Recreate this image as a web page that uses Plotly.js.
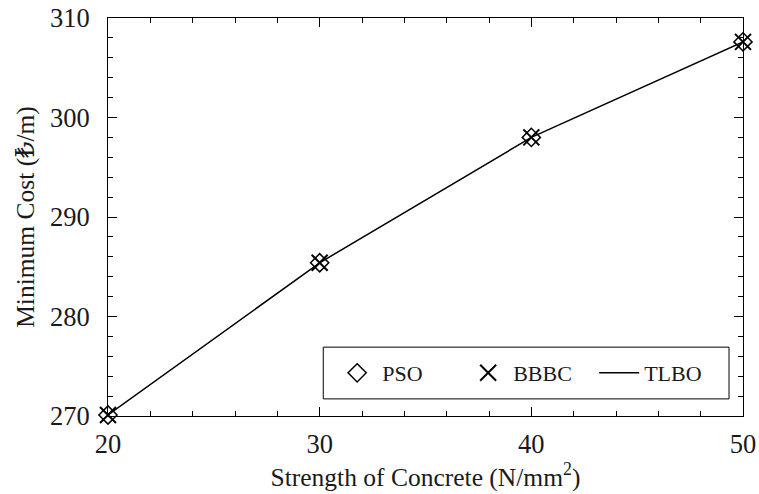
<!DOCTYPE html>
<html><head><meta charset="utf-8">
<script src="https://cdn.plot.ly/plotly-3.0.1.min.js"></script>
<style>body{margin:0;background:#fff}</style>
</head><body><div id="chart" style="width:759px;height:494px"></div>
<script>
const strength = [20, 30, 40, 50];
const psoCost = [270.1, 285.4, 298.0, 307.6];
const bbbcCost = [270.1, 285.4, 298.0, 307.6];
const tlboCost = [270.1, 285.4, 298.0, 307.6];
const xTicks = [20, 30, 40, 50];
const yTicks = [270, 280, 290, 300, 310];

const FONT = 'Liberation Serif, DejaVu Serif, serif';
const traces = [
  {x: strength, y: psoCost, name: 'PSO', mode: 'markers', type: 'scatter', cliponaxis: false,
   marker: {symbol: 'diamond-open', size: 14, color: '#000', line: {width: 1.5, color: '#000'}}},
  {x: strength, y: bbbcCost, name: 'BBBC', mode: 'markers', type: 'scatter', cliponaxis: false,
   marker: {symbol: 'x-thin-open', size: 16, color: '#000', line: {width: 2, color: '#000'}}},
  {x: strength, y: tlboCost, name: 'TLBO', mode: 'lines', type: 'scatter', cliponaxis: false,
   line: {color: '#000', width: 1.5}}
];
const axisCommon = {
  showgrid: false, zeroline: false, showline: true, linecolor: '#000', linewidth: 1,
  mirror: 'ticks', ticks: 'inside', ticklen: 9, tickwidth: 1, tickcolor: '#000',
  ticklabeloverflow: 'allow',
  tickfont: {family: FONT, size: 26.5, color: '#1a1a1a'}
};
const layout = {
  width: 759, height: 494,
  margin: {l: 108, r: 16, t: 18, b: 78},
  paper_bgcolor: '#fff', plot_bgcolor: '#fff',
  font: {family: FONT, size: 20, color: '#1a1a1a'},
  showlegend: true,
  legend: {orientation: 'h', x: 0.353, xanchor: 'left', y: 0.108, yanchor: 'middle',
           borderwidth: 0, bgcolor: 'rgba(0,0,0,0)',
           font: {family: FONT, size: 22, color: '#1a1a1a'}, itemwidth: 40, entrywidth: 76},
  shapes: [{type: 'rect', xref: 'paper', yref: 'paper', x0: 0.339, x1: 0.978, y0: 0.043, y1: 0.173,
            line: {color: '#000', width: 1}, fillcolor: 'rgba(0,0,0,0)', layer: 'above'}],
  xaxis: Object.assign({}, axisCommon, {
    range: [20, 50], tickmode: 'array', tickvals: xTicks, ticktext: xTicks.map(String),
    ticklabelstandoff: 4,
    minor: {dtick: 2, tick0: 20, ticks: 'inside', ticklen: 5, tickcolor: '#000'},
    title: {text: 'Strength of Concrete (N/mm<sup>2</sup>)', font: {family: FONT, size: 25.5, color: '#1a1a1a'}, standoff: 6}
  }),
  yaxis: Object.assign({}, axisCommon, {
    range: [270, 310], tickmode: 'array', tickvals: yTicks, ticktext: yTicks.map(String),
    ticklabelstandoff: 12,
    minor: {dtick: 2, tick0: 270, ticks: 'inside', ticklen: 5, tickcolor: '#000'},
    title: {text: 'Minimum Cost (₺/m)', font: {family: FONT, size: 25.5, color: '#1a1a1a'}, standoff: 8}
  })
};
Plotly.newPlot('chart', traces, layout, {displayModeBar: false, staticPlot: true});
</script></body></html>
